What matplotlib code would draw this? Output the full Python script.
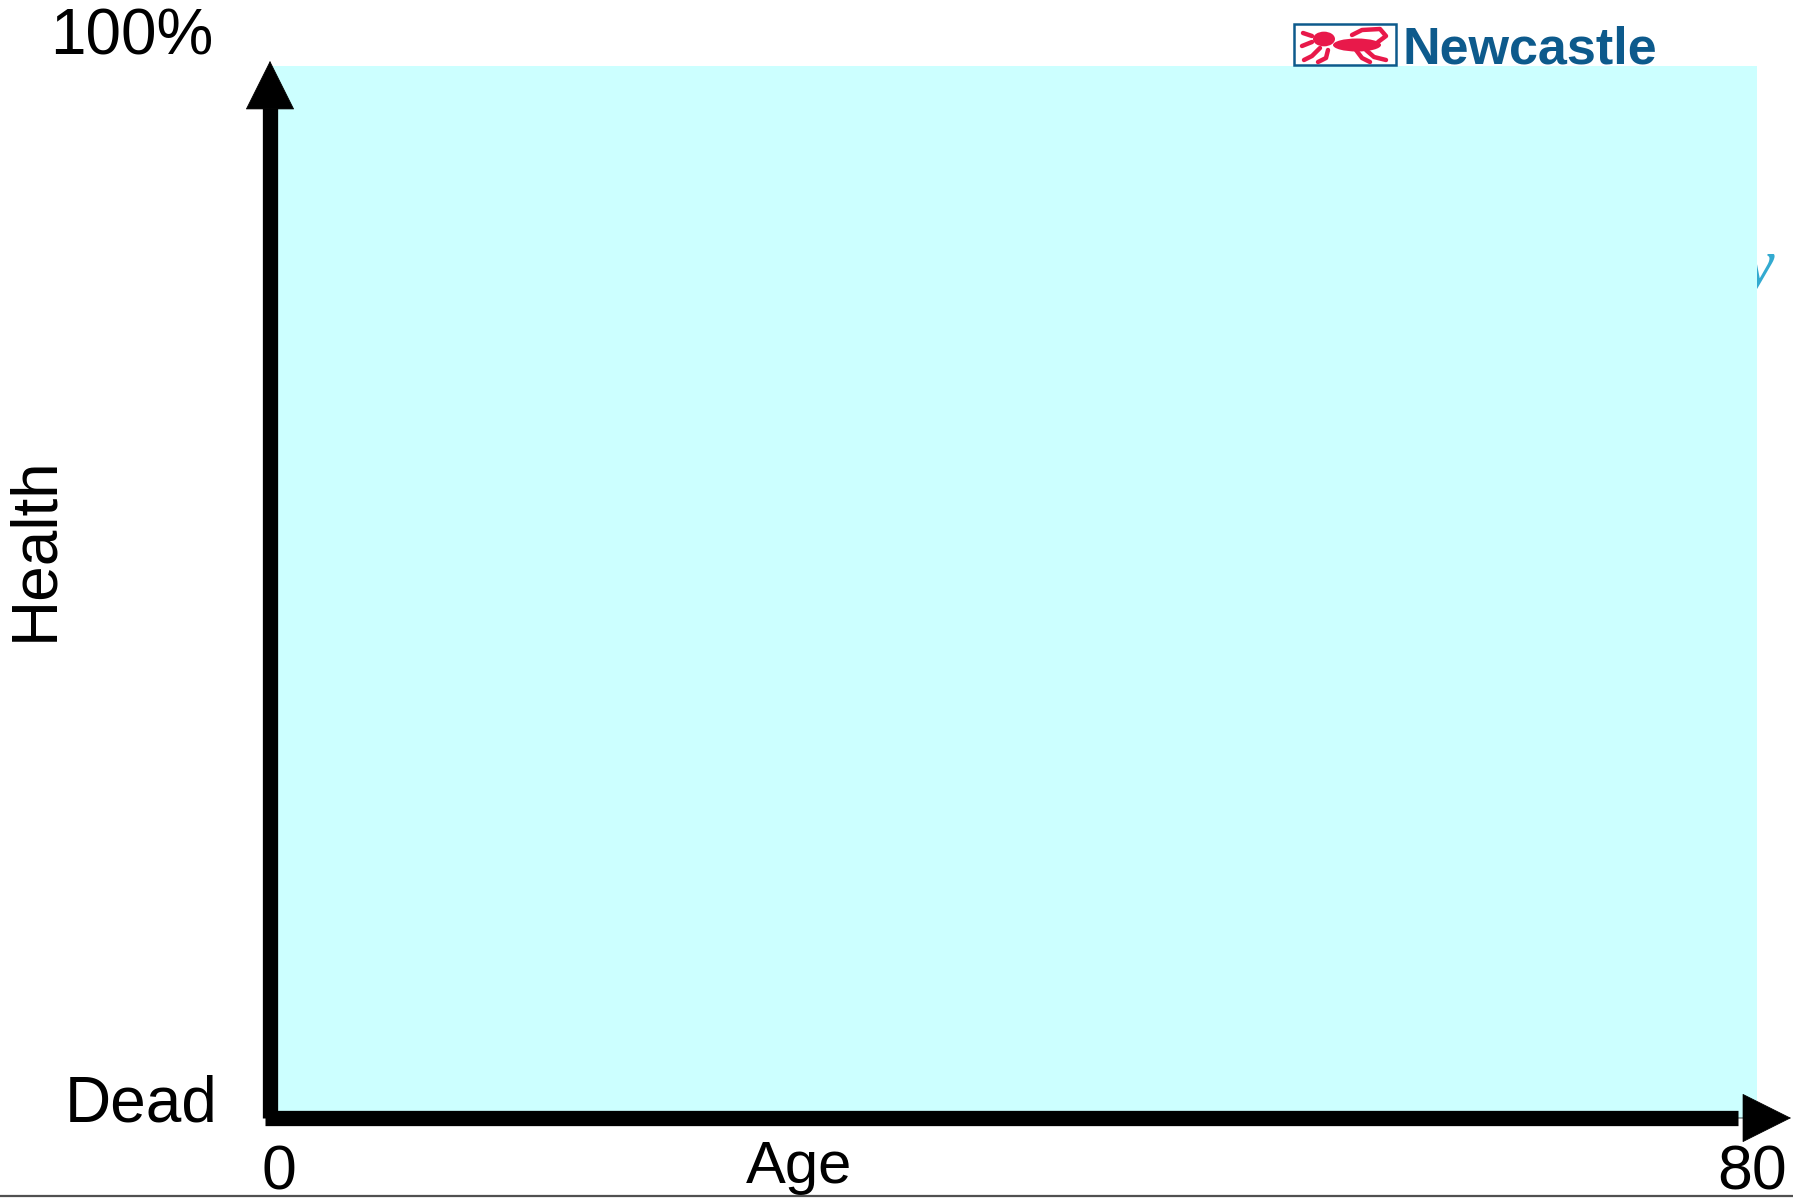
import matplotlib
matplotlib.use("Agg")
import matplotlib.pyplot as plt
from matplotlib.lines import Line2D
from matplotlib.patches import Rectangle, Ellipse, Circle

# fonts - Arial look-alike
plt.rcParams['font.family'] = ['Liberation Sans', 'DejaVu Sans']

# data: empty "health over a lifetime" frame
age_range = [0, 80]
age_labels = ["0", "80"]
health_range = [0, 100]
health_labels = ["Dead", "100%"]
x_title = "Age"
y_title = "Health"
logo_text = "Newcastle"

W, H = 1793, 1198
fig = plt.figure(figsize=(W / 100, H / 100), dpi=100)

# axes placed so that age 0 -> px 270, age 80 -> px 1757, health 0 -> px 1118, 100 -> px 66
ax = fig.add_axes([270 / W, (H - 1118) / H, (1757 - 270) / W, (1118 - 66) / H])
ax.set_xlim(age_range)
ax.set_ylim(health_range)
ax.set_axis_off()

# pale cyan plot area
ax.fill_between(age_range, health_range[0], health_range[1], color="#ccffff", lw=0, zorder=1)

# stray italic glyph peeking out from behind the area
ax.text(80.95, 79.1, "y", fontsize=48, style="italic", family="Liberation Serif",
        color="#33aad0", ha="right", va="baseline", clip_on=False, zorder=0.5)

# axis arrows: thick shafts + filled heads
shaft_lw = 11
ax.plot([0, 0], [0, 96], color="black", lw=shaft_lw, solid_capstyle="butt", clip_on=False, zorder=3)
ax.plot([-0.25, 79], [0, 0], color="black", lw=shaft_lw, solid_capstyle="butt", clip_on=False, zorder=3)
ax.annotate("", xy=(0, 100.48), xytext=(0, 90),
            arrowprops=dict(arrowstyle="-|>,head_length=0.4,head_width=0.2", mutation_scale=85,
                            color="black", lw=0.5, shrinkA=0, shrinkB=0),
            annotation_clip=False, zorder=4)
ax.annotate("", xy=(81.83, 0), xytext=(76, 0),
            arrowprops=dict(arrowstyle="-|>,head_length=0.4,head_width=0.2", mutation_scale=85,
                            color="black", lw=0.5, shrinkA=0, shrinkB=0),
            annotation_clip=False, zorder=4)

# tick-like labels
ax.text(age_range[0] + 0.48, -6.75, age_labels[0], fontsize=45, ha="center", va="baseline", clip_on=False)
ax.text(age_range[1] - 0.27, -6.75, age_labels[1], fontsize=45, ha="center", va="baseline", clip_on=False)
ax.text(-2.8, health_range[0] - 0.38, health_labels[0], fontsize=46, ha="right", va="baseline", clip_on=False)
ax.text(-3.05, health_range[1] + 1.05, health_labels[1], fontsize=46, ha="right", va="baseline", clip_on=False)

# axis titles
ax.text(28.46, -6.15, x_title, fontsize=43, ha="center", va="baseline", clip_on=False)
ax.text(-11.7, 54.1, y_title, fontsize=46, rotation=90, rotation_mode="anchor",
        ha="center", va="baseline", clip_on=False)


# logo in the top right, in figure pixel coords
def px(x, y):
    return x / W, 1 - y / H


blue = "#0d5a8c"
red = "#e8194a"
fig.text(*px(1402, 63), logo_text, fontsize=37.5, fontweight="bold", color=blue,
         ha="left", va="baseline")
bx, by = px(1294, 65)
fig.add_artist(Rectangle((bx, by), 102 / W, 41 / H, transform=fig.transFigure,
                         facecolor="white", edgecolor=blue, lw=1.8))
# crude lion passant
fig.add_artist(Ellipse(px(1357, 45), 48 / W, 13 / H, transform=fig.transFigure, color=red, lw=0))
fig.add_artist(Circle(px(1324, 39), 11 / W, transform=fig.transFigure, color=red, lw=0))
lion_strokes = [
    [(1320, 48), (1312, 56), (1304, 60)],
    [(1328, 50), (1326, 58), (1318, 62)],
    [(1312, 36), (1303, 33)],
    [(1312, 42), (1302, 46)],
    [(1366, 50), (1374, 57), (1386, 60)],
    [(1356, 50), (1362, 58), (1370, 62)],
    [(1378, 42), (1386, 36), (1380, 29), (1362, 30), (1352, 35)],
]
for s in lion_strokes:
    xs = [p[0] / W for p in s]
    ys = [1 - p[1] / H for p in s]
    fig.add_artist(Line2D(xs, ys, transform=fig.transFigure, color=red, lw=3.2,
                          solid_capstyle="round"))

# thin rule along the bottom edge
fig.add_artist(Line2D([0, 1], [1 - 1196 / H, 1 - 1196 / H], transform=fig.transFigure,
                      color="#505050", lw=1.6))

fig.savefig("out.png", dpi=100)
